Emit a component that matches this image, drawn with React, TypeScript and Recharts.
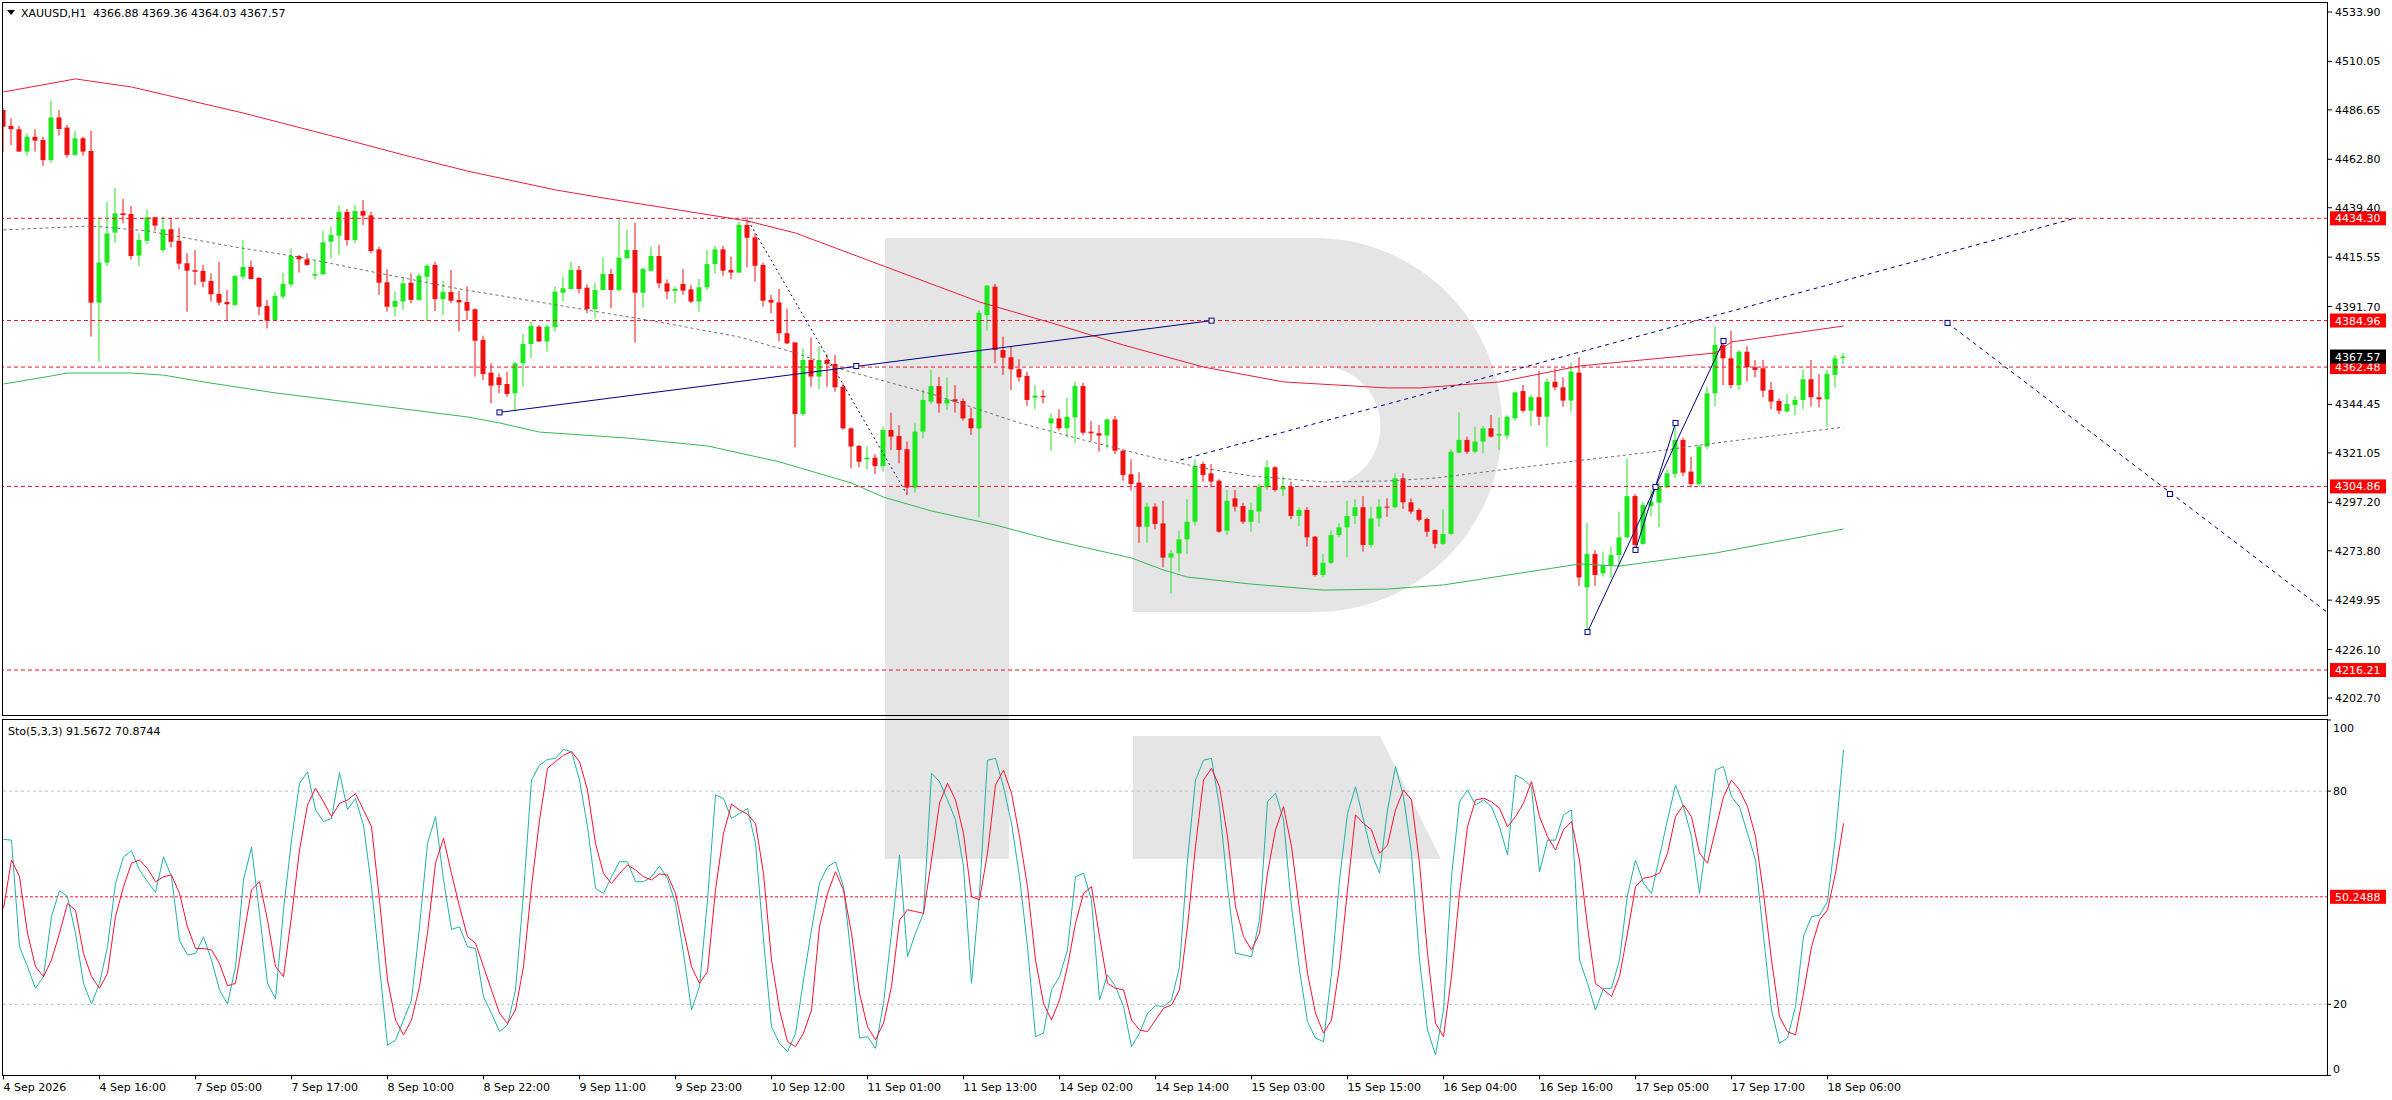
import React from 'react';
import { ComposedChart, Bar, Line, XAxis, YAxis, ReferenceLine, ReferenceDot } from 'recharts';

const FONT = 'DejaVu Sans';
const RED = '#f01010';
const GREEN = '#1ee81e';
const LEVEL_RED = '#ff1030';
const NAVY = '#000080';

const opens = [4486.6,4478.9,4477.3,4466.5,4473.6,4472.1,4462.4,4483.0,4478.1,4464.9,4472.9,4466.8,4393.6,4412.9,4427.4,4436.7,4436.4,4416.3,4423.4,4434.8,4419.0,4429.0,4423.4,4412.6,4409.3,4408.9,4404.0,4397.8,4393.9,4392.5,4406.1,4410.8,4405.5,4392.0,4385.2,4396.5,4402.4,4416.1,4414.5,4406.6,4407.3,4423.0,4425.9,4437.4,4423.8,4437.8,4435.7,4419.3,4403.4,4391.6,4394.1,4403.2,4394.9,4406.1,4411.8,4395.3,4398.7,4394.9,4393.9,4390.4,4375.6,4359.8,4357.5,4354.3,4349.8,4364.3,4373.6,4382.0,4374.8,4381.7,4398.4,4400.2,4409.4,4400.8,4390.5,4399.7,4407.4,4399.7,4415.0,4419.0,4398.4,4409.0,4416.1,4402.9,4399.2,4402.6,4400.0,4394.1,4401.0,4412.2,4419.3,4409.4,4408.1,4431.1,4425.1,4411.8,4394.9,4393.7,4378.8,4374.4,4339.8,4365.9,4357.9,4365.9,4364.0,4353.0,4332.9,4324.4,4317.9,4318.7,4314.7,4332.1,4329.2,4322.8,4304.3,4331.3,4345.8,4353.3,4344.9,4346.9,4346.1,4337.7,4332.9,4387.6,4401.3,4370.7,4367.2,4361.5,4358.2,4347.7,4348.5,4335.3,4337.7,4332.9,4338.2,4353.3,4331.3,4330.5,4329.4,4337.2,4322.1,4310.7,4306.7,4285.4,4295.1,4287.0,4270.5,4272.5,4279.3,4287.8,4315.7,4311.2,4307.6,4283.5,4299.1,4295.4,4287.8,4292.7,4304.4,4314.1,4303.4,4304.7,4290.6,4293.5,4280.6,4262.1,4268.0,4281.4,4285.1,4290.6,4294.8,4276.6,4289.4,4295.1,4294.8,4308.8,4297.2,4293.5,4289.1,4283.8,4277.1,4281.9,4321.2,4327.3,4321.6,4326.5,4332.9,4329.4,4329.4,4337.7,4350.9,4341.4,4347.9,4338.5,4355.4,4352.7,4346.3,4359.8,4256.1,4272.2,4262.9,4266.9,4271.7,4280.3,4300.2,4277.1,4295.4,4297.0,4304.4,4310.9,4327.3,4312.0,4306.0,4324.1,4349.8,4373.2,4366.7,4353.8,4369.9,4362.4,4361.9,4351.4,4346.1,4341.0,4344.2,4346.6,4356.6,4347.9,4346.9,4358.7,4366.88];
const highs = [4487.4,4482.6,4478.9,4475.3,4477.3,4473.7,4491.1,4486.6,4479.4,4476.6,4473.7,4476.6,4434.8,4442.3,4449.1,4443.6,4440.2,4427.0,4438.6,4435.1,4435.1,4434.6,4429.8,4417.4,4419.0,4411.8,4407.7,4413.4,4399.7,4406.9,4423.8,4413.9,4406.1,4394.9,4398.6,4408.1,4419.8,4416.6,4417.4,4414.2,4428.3,4430.3,4440.7,4438.8,4440.7,4443.1,4437.5,4420.6,4409.7,4398.9,4406.1,4407.7,4407.7,4412.2,4413.4,4404.0,4409.3,4399.2,4401.5,4390.8,4377.6,4364.3,4359.5,4360.3,4365.1,4378.5,4384.4,4382.8,4382.8,4401.3,4406.1,4413.4,4411.3,4402.4,4403.2,4415.3,4409.8,4434.3,4428.7,4432.2,4410.6,4420.6,4421.4,4404.8,4401.3,4409.8,4402.1,4405.0,4419.0,4420.9,4420.9,4415.8,4432.7,4434.8,4427.0,4412.9,4397.3,4400.2,4390.8,4374.4,4371.5,4376.7,4372.3,4368.6,4368.3,4354.6,4333.4,4324.9,4324.1,4320.4,4333.7,4340.5,4334.5,4326.5,4335.3,4351.7,4361.1,4357.8,4357.5,4353.8,4347.4,4342.9,4390.0,4402.1,4402.6,4377.2,4372.6,4366.2,4360.3,4353.8,4351.4,4340.1,4342.1,4347.7,4355.4,4354.9,4336.4,4334.5,4337.7,4338.9,4322.8,4317.9,4311.7,4297.0,4296.7,4297.9,4274.2,4283.5,4298.6,4317.9,4316.8,4315.7,4308.3,4303.1,4303.1,4297.0,4297.0,4306.3,4317.6,4314.7,4309.6,4307.2,4294.8,4294.8,4280.9,4272.2,4283.5,4287.0,4298.0,4298.6,4300.2,4295.1,4298.6,4299.1,4311.2,4311.2,4299.1,4294.3,4289.8,4284.1,4293.8,4322.8,4340.6,4328.9,4333.7,4334.0,4339.3,4338.1,4339.3,4350.6,4353.8,4349.0,4360.6,4357.0,4361.9,4357.5,4364.6,4367.2,4287.3,4274.2,4273.4,4275.8,4292.7,4318.4,4301.2,4297.5,4303.1,4306.7,4312.8,4335.6,4328.4,4319.2,4324.9,4353.0,4382.0,4374.8,4380.1,4370.7,4372.7,4365.9,4365.9,4355.4,4347.4,4349.5,4348.5,4361.4,4365.9,4359.1,4361.1,4368.3,4369.36];
const lows = [4466.5,4469.7,4466.5,4464.5,4466.5,4459.6,4461.2,4474.2,4463.6,4464.5,4464.5,4377.2,4365.1,4411.3,4422.5,4431.9,4414.5,4411.3,4421.9,4428.3,4417.7,4420.3,4409.7,4389.2,4402.1,4401.0,4394.1,4392.1,4384.7,4391.7,4404.8,4404.8,4387.6,4381.2,4384.9,4395.2,4401.0,4408.1,4411.4,4404.8,4406.9,4415.0,4416.6,4421.1,4422.2,4431.1,4417.4,4397.3,4389.2,4386.8,4390.0,4393.3,4394.9,4384.7,4389.5,4387.6,4393.3,4379.6,4385.2,4357.9,4356.2,4345.0,4349.8,4348.2,4340.9,4353.0,4366.7,4374.8,4369.9,4379.6,4394.1,4399.7,4398.1,4388.4,4386.0,4399.7,4390.8,4398.9,4414.7,4374.3,4391.2,4408.5,4400.5,4395.3,4393.3,4397.3,4393.3,4389.2,4399.7,4407.7,4406.5,4404.8,4408.1,4410.6,4403.7,4391.6,4388.4,4374.8,4373.6,4323.7,4338.8,4353.0,4351.8,4353.0,4350.6,4332.1,4313.6,4314.1,4313.1,4310.9,4312.0,4322.5,4316.0,4300.7,4301.9,4328.1,4344.6,4340.5,4341.8,4340.5,4336.6,4329.7,4289.9,4380.0,4364.3,4358.6,4351.4,4355.4,4343.7,4342.1,4345.0,4322.1,4331.8,4328.5,4325.7,4329.7,4326.8,4321.6,4323.2,4320.5,4307.6,4302.8,4277.7,4277.7,4284.1,4265.8,4253.2,4263.7,4272.2,4285.8,4307.1,4304.4,4282.5,4281.4,4292.7,4286.7,4283.0,4287.0,4303.1,4302.3,4300.2,4289.0,4285.7,4275.8,4261.3,4261.3,4267.4,4280.3,4270.6,4286.7,4273.4,4275.4,4285.4,4290.2,4294.3,4294.0,4291.6,4287.8,4280.6,4275.0,4276.6,4281.4,4320.8,4320.5,4320.8,4320.8,4328.4,4322.4,4327.6,4336.6,4340.5,4334.0,4334.5,4324.1,4351.4,4343.4,4340.9,4256.8,4234.3,4256.8,4261.3,4260.5,4266.1,4279.8,4275.0,4276.6,4290.3,4285.1,4303.9,4308.8,4309.9,4304.4,4304.7,4322.8,4343.4,4353.8,4352.2,4351.4,4355.4,4357.5,4347.9,4342.1,4339.8,4340.5,4339.3,4342.1,4343.4,4343.0,4333.7,4352.7,4364.03];
const closes = [4478.5,4477.3,4466.5,4473.7,4471.8,4462.4,4483.0,4477.4,4464.9,4472.9,4466.5,4393.6,4413.0,4427.0,4436.7,4435.9,4416.1,4423.8,4434.8,4430.8,4429.0,4423.0,4412.4,4409.0,4408.5,4403.7,4397.6,4393.6,4392.8,4406.5,4410.8,4405.0,4391.6,4384.9,4396.8,4402.6,4416.1,4414.5,4411.8,4407.4,4422.7,4426.2,4437.4,4423.8,4437.8,4435.6,4418.5,4403.2,4391.6,4394.4,4402.9,4394.9,4406.6,4411.4,4395.3,4398.7,4394.5,4393.7,4389.7,4375.2,4359.1,4353.5,4353.8,4349.5,4364.3,4373.6,4382.3,4374.8,4382.0,4398.9,4400.5,4409.4,4400.2,4390.5,4399.7,4407.4,4399.7,4415.3,4419.0,4398.4,4409.8,4416.1,4402.9,4398.9,4400.2,4399.4,4394.1,4401.0,4412.2,4419.3,4409.0,4408.1,4431.1,4424.9,4411.4,4394.5,4393.6,4378.8,4373.9,4339.8,4365.9,4357.9,4365.9,4364.0,4352.7,4332.9,4324.1,4316.8,4318.7,4314.7,4332.1,4328.9,4322.5,4304.3,4331.3,4346.6,4353.3,4344.9,4346.9,4345.8,4337.7,4332.9,4388.7,4401.8,4370.7,4367.0,4361.4,4357.5,4346.6,4348.7,4347.9,4337.7,4332.9,4338.5,4353.3,4330.8,4330.5,4329.4,4337.2,4322.1,4310.4,4306.0,4285.4,4295.1,4286.7,4270.5,4272.5,4279.3,4287.8,4314.7,4310.4,4307.2,4283.0,4297.9,4295.1,4287.8,4293.5,4304.7,4314.1,4303.1,4304.7,4290.6,4293.5,4280.3,4262.1,4268.0,4281.4,4285.1,4290.6,4294.8,4276.6,4289.4,4295.1,4294.6,4308.8,4297.2,4292.7,4288.7,4283.0,4277.1,4281.9,4321.6,4327.3,4321.6,4326.5,4332.9,4328.9,4330.2,4338.5,4350.3,4341.4,4347.9,4338.5,4355.4,4352.7,4346.3,4360.3,4260.9,4272.2,4262.1,4266.9,4271.7,4280.3,4300.2,4276.6,4295.9,4297.5,4304.7,4311.2,4327.3,4311.5,4306.0,4324.1,4349.8,4373.2,4366.7,4353.8,4369.9,4362.4,4361.1,4351.1,4345.8,4341.4,4344.7,4346.6,4356.6,4347.9,4346.9,4359.1,4366.7,4367.57];

const stochK = [66.4,66.2,36.2,30.6,24.5,27.8,44.7,52.0,50.3,40.0,25.9,20.1,25.9,36.2,54.0,61.5,63.2,57.8,54.5,51.5,61.5,55.9,37.9,33.9,34.3,39.0,32.5,24.0,20.1,30.6,55.0,64.2,45.6,25.9,21.6,46.5,66.2,82.2,85.4,74.7,71.4,72.3,85.2,74.8,77.9,70.4,53.1,30.6,8.5,9.9,15.6,21.2,41.8,65.3,72.8,55.0,41.1,41.8,36.2,35.7,22.1,17.5,12.3,14.2,24.0,51.2,83.1,87.3,88.9,89.2,91.7,91.1,83.1,70.0,52.6,51.2,55.9,60.1,60.1,54.5,54.5,55.9,58.9,55.4,48.4,34.3,18.4,25.0,49.3,78.9,77.9,72.3,73.7,75.1,65.3,38.1,13.7,9.0,6.7,11.8,26.9,41.0,54.1,58.7,60.1,53.1,32.5,10.5,10.9,7.6,20.3,40.0,62.0,33.4,40.0,45.6,85.0,82.7,77.5,71.9,58.7,25.9,51.2,88.7,89.2,81.2,70.9,55.9,36.2,10.9,11.9,24.1,27.8,35.3,55.9,56.9,49.4,21.2,28.3,25.0,19.4,8.1,11.9,17.5,19.6,19.4,21.2,30.6,60.6,83.1,88.7,89.2,75.6,53.1,34.4,33.9,33.4,43.7,77.0,79.4,71.9,47.5,29.7,15.1,10.5,9.5,28.7,55.0,73.7,81.2,71.9,62.5,56.9,74.7,86.9,78.4,62.5,32.5,12.8,5.8,18.4,55.9,77.0,80.3,76.1,77.5,75.6,70.0,62.0,84.5,83.3,81.2,57.3,66.2,66.2,73.3,74.7,32.5,25.9,18.4,24.5,24.5,32.5,50.8,60.6,54.1,51.2,61.6,71.9,81.7,75.6,67.2,51.2,68.1,85.9,86.9,78.4,75.6,68.1,60.6,39.1,18.4,9.0,10.5,19.4,39.1,44.7,45.1,48.9,67.2,91.57];
const stochD = [47.0,60.6,55.9,40.0,30.6,27.8,32.5,40.0,48.4,46.5,34.3,27.8,24.5,28.7,44.7,53.1,59.7,60.6,58.2,54.5,55.9,56.4,51.2,41.8,35.7,35.7,35.3,31.5,25.2,25.9,39.0,52.2,54.5,43.7,30.6,27.8,44.7,63.4,76.1,80.8,77.0,72.8,76.5,77.5,79.3,74.7,70.0,49.3,26.8,15.6,11.4,15.6,25.0,40.0,59.7,66.7,56.8,47.5,39.0,37.2,30.6,24.0,17.5,14.6,18.4,30.6,53.1,71.8,86.4,88.3,90.1,91.1,88.3,80.3,65.3,56.8,54.0,56.8,59.2,57.8,55.9,55.0,56.7,56.4,51.2,40.9,30.6,25.9,29.2,52.2,68.1,76.3,74.7,73.5,70.9,56.8,32.5,18.4,9.5,8.1,11.9,18.4,41.9,51.2,57.3,52.2,40.0,23.1,13.7,10.0,14.7,25.0,43.7,46.6,46.1,45.6,60.6,76.6,82.2,77.5,68.1,50.3,49.4,62.5,81.7,85.9,79.4,67.2,53.1,32.5,20.3,15.6,21.2,30.6,42.8,51.2,53.1,39.1,25.9,24.5,24.1,15.6,12.8,12.3,15.6,18.9,19.8,24.1,41.9,64.4,83.1,86.4,81.2,67.2,47.5,39.1,35.3,40.0,56.9,69.1,75.6,64.4,46.6,28.7,17.5,11.9,15.6,30.6,52.2,73.3,70.9,69.1,62.5,64.8,74.7,80.3,77.5,59.7,34.4,14.7,10.9,27.8,51.2,70.0,77.5,78.0,77.0,75.2,70.0,72.8,76.6,82.7,72.8,67.2,63.4,69.1,71.4,60.6,41.9,25.9,24.1,22.2,27.8,40.0,53.1,55.5,55.9,56.9,62.5,72.8,76.1,72.8,62.5,59.7,69.1,78.4,83.1,80.3,75.6,67.2,51.2,32.5,16.5,12.3,11.4,23.1,36.2,43.7,46.6,56.9,70.87];

// Bollinger-style bands: [bar index, price]
const bandUpper: [number, number][] = [[0,4495.3],[9,4501.6],[16,4497.7],[30,4485.1],[43,4472.1],[50,4464.9],[58,4457.1],[69,4448.0],[75,4444.1],[93,4433.0],[99,4427.2],[116,4402.6],[122,4393.9],[131,4383.8],[140,4373.1],[150,4362.5],[160,4355.3],[173,4352.4],[177,4352.4],[187,4355.3],[197,4363.0],[214,4369.3],[216,4374.6],[230,4382.3]];
const bandLower: [number, number][] = [[0,4354.3],[6,4358.2],[8,4359.6],[16,4359.6],[20,4358.6],[25,4355.3],[34,4350.0],[58,4338.4],[62,4335.5],[67,4331.1],[78,4328.2],[88,4324.4],[97,4316.7],[106,4306.5],[110,4299.7],[116,4293.0],[124,4286.2],[131,4279.0],[141,4270.3],[145,4264.5],[148,4261.1],[156,4257.7],[165,4254.8],[173,4255.3],[180,4257.3],[197,4267.4],[202,4266.4],[214,4272.7],[230,4284.3]];
const bandMiddle: [number, number][] = [[0,4428.7],[11,4430.6],[18,4428.2],[29,4420.4],[37,4415.6],[45,4409.3],[57,4400.2],[70,4391.9],[82,4384.2],[92,4377.0],[99,4369.3],[105,4361.1],[116,4349.5],[121,4343.2],[127,4335.5],[135,4327.3],[144,4318.6],[150,4313.7],[156,4309.9],[165,4307.0],[173,4307.5],[179,4308.9],[189,4313.7],[205,4321.0],[214,4325.8],[230,4333.5]];

const levels = [4434.30, 4384.96, 4362.48, 4304.86, 4216.21];
const lastPrice = 4367.57;
const stochLevel = 50.2488;
const priceTicks = [4533.90, 4510.05, 4486.65, 4462.80, 4439.40, 4415.55, 4391.70, 4344.45, 4321.05, 4297.20, 4273.80, 4249.95, 4226.10, 4202.70];
const stochTicks = [0, 20, 80, 100];
const timeLabels = ['4 Sep 2026','4 Sep 16:00','7 Sep 05:00','7 Sep 17:00','8 Sep 10:00','8 Sep 22:00','9 Sep 11:00','9 Sep 23:00','10 Sep 12:00','11 Sep 01:00','11 Sep 13:00','14 Sep 02:00','14 Sep 14:00','15 Sep 03:00','15 Sep 15:00','16 Sep 04:00','16 Sep 16:00','17 Sep 05:00','17 Sep 17:00','18 Sep 06:00'];
const labelStep = 12;

// drawn trend objects: [bar index, price] pairs
const trendSolid: [number, number][][] = [[[62, 4340.6], [151, 4384.9]], [[198, 4234.6], [215, 4375.1]], [[204, 4274.2], [209, 4335.5]]];
const trendDotted: [number, number][][] = [[[93.1, 4433.1], [112.9, 4301.2]]];
const trendDashed: [number, number][][] = [[[147.1, 4317.6], [258.9, 4434.3]], [[243, 4383.8], [290.5, 4244.0]]];
const anchorPoints: [number, number][] = [[62, 4340.6], [106.6, 4363.0], [151, 4384.9], [198, 4234.6], [204, 4274.2], [206.5, 4304.6], [209, 4335.5], [215, 4375.1], [243, 4383.8], [270.8, 4301.2]];

const X_DOMAIN: [number, number] = [-0.1875, 290.5625];
const PRICE_DOMAIN: [number, number] = [4194.02, 4538.73];

const rows: any[] = opens.map((o, i) => {
  const h = highs[i], l = lows[i], c = closes[i];
  return { i, o, h, l, c, range: [Math.min(l, o, c), Math.max(h, o, c)] };
});
bandUpper.forEach(([i, v]) => { rows[i].up = v; });
bandLower.forEach(([i, v]) => { rows[i].lo = v; });
bandMiddle.forEach(([i, v]) => { rows[i].mid = v; });

const stochRows = stochK.map((k, i) => ({ i, k, d: stochD[i] }));

const Candle = (props: any) => {
  const { x, y, width, height, payload } = props;
  if (!payload || x == null || y == null) return null;
  const lo = payload.range[0];
  const hi = payload.range[1];
  const top = Math.min(y, y + height);
  const h = Math.abs(height);
  const k = hi > lo ? h / (hi - lo) : 0;
  const py = (p: number) => top + (hi - p) * k;
  const cx = x + width / 2;
  const up = payload.c >= payload.o;
  const col = up ? GREEN : RED;
  const bt = py(Math.max(payload.o, payload.c));
  const bb = py(Math.min(payload.o, payload.c));
  return (
    <g>
      <line x1={cx} x2={cx} y1={top} y2={top + Math.max(h, 1)} stroke={col} strokeWidth={1} />
      <rect x={cx - 2.5} y={bt} width={5} height={Math.max(1, bb - bt)} fill={col} />
    </g>
  );
};

const Tag = (props: any) => {
  const { viewBox, text, bg } = props;
  if (!viewBox) return null;
  const x = viewBox.x + viewBox.width + 2;
  const y = viewBox.y;
  return (
    <g>
      <rect x={x} y={y - 7} width={56} height={14} fill={bg} />
      <text x={x + 5} y={y + 4} fill="#ffffff" fontSize={11} fontFamily={FONT}>{text}</text>
    </g>
  );
};

const PriceTick = (props: any) => {
  const { x, y, payload } = props;
  return (
    <text x={x} y={y + 4} fill="#000" fontSize={11} fontFamily={FONT} textAnchor="start">
      {Number(payload.value).toFixed(2)}
    </text>
  );
};

const StochTick = (props: any) => {
  const { x, y, payload } = props;
  const v = payload.value;
  const dy = v === 100 ? 8 : v === 0 ? -6 : 0;
  return (
    <text x={x} y={y + 4 + dy} fill="#000" fontSize={11} fontFamily={FONT} textAnchor="start">
      {v}
    </text>
  );
};

const TimeTick = (props: any) => {
  const { x, y, payload } = props;
  const idx = Math.round(payload.value / labelStep);
  return (
    <text x={x} y={y + 10} fill="#000" fontSize={11} fontFamily={FONT} textAnchor="start">
      {timeLabels[idx]}
    </text>
  );
};

const Square = (props: any) => {
  const { cx, cy } = props;
  if (cx == null || cy == null) return null;
  return <rect x={cx - 2.5} y={cy - 2.5} width={5} height={5} fill="#ffffff" stroke={NAVY} strokeWidth={1} />;
};

const Logo = () => (
  <svg width={2392} height={1100} style={{ position: 'absolute', left: 0, top: 0 }}>
    <path d="M885,238 H1315 A187,187 0 0 1 1315,612 H885 Z" fill="#e5e5e5" />
    <path d="M1009,366 H1320 A60.5,60.5 0 0 1 1320,487 H1133 V612 H1009 Z" fill="#ffffff" />
    <rect x={885} y={238} width={124} height={621} fill="#e5e5e5" />
    <path d="M1133,736 H1380 L1441,859 H1133 Z" fill="#e5e5e5" />
  </svg>
);

const Overlay = () => (
  <svg width={2392} height={1100} style={{ position: 'absolute', left: 0, top: 0, pointerEvents: 'none' }}>
    <rect x={2.5} y={2.5} width={2325} height={713} fill="none" stroke="#000" strokeWidth={1} />
    <rect x={2.5} y={719.5} width={2325} height={356} fill="none" stroke="#000" strokeWidth={1} />
    <polygon points="7,10 15,10 11,15" fill="#000" />
    <text x={21} y={17} fontSize={11} fontFamily={FONT} fill="#000">XAUUSD,H1</text>
    <text x={93} y={17} fontSize={11} fontFamily={FONT} fill="#000">4366.88 4369.36 4364.03 4367.57</text>
    <text x={8} y={735} fontSize={11} fontFamily={FONT} fill="#000">Sto(5,3,3) 91.5672 70.8744</text>
  </svg>
);

export default function App() {
  const xTicks = timeLabels.map((_, k) => k * labelStep);
  return (
    <div style={{ position: 'absolute', left: 0, top: 0, width: 2392, height: 1100, background: '#ffffff', overflow: 'hidden', fontFamily: FONT }}>
      <Logo />
      <div style={{ position: 'absolute', left: 0, top: 0 }}>
        <ComposedChart width={2392} height={716} data={rows} margin={{ top: 2, right: 0, bottom: 0, left: 2 }}>
          <XAxis dataKey="i" type="number" domain={X_DOMAIN} hide allowDataOverflow />
          <YAxis orientation="right" type="number" domain={PRICE_DOMAIN} ticks={priceTicks} interval={0}
            width={64} tickSize={4} tickMargin={3} axisLine={false} tickLine={{ stroke: '#000' }}
            tick={<PriceTick />} allowDataOverflow />
          {levels.map((v) => (
            <ReferenceLine key={v} y={v} stroke={LEVEL_RED} strokeDasharray="4 3" strokeWidth={1}
              label={<Tag text={v.toFixed(2)} bg="#ff0000" />} />
          ))}
          <ReferenceLine y={lastPrice} stroke="none" label={<Tag text={lastPrice.toFixed(2)} bg="#000000" />} />
          <Line dataKey="up" stroke="#ee1c3c" strokeWidth={1} dot={false} connectNulls isAnimationActive={false} />
          <Line dataKey="lo" stroke="#34b955" strokeWidth={1} dot={false} connectNulls isAnimationActive={false} />
          <Line dataKey="mid" stroke="#707070" strokeWidth={1} strokeDasharray="3 3" dot={false} connectNulls isAnimationActive={false} />
          <Bar dataKey="range" barSize={5} shape={<Candle />} isAnimationActive={false} />
          {trendSolid.map((s, k) => (
            <ReferenceLine key={'s' + k} segment={[{ x: s[0][0], y: s[0][1] }, { x: s[1][0], y: s[1][1] }]}
              stroke={NAVY} strokeWidth={1} ifOverflow="hidden" />
          ))}
          {trendDotted.map((s, k) => (
            <ReferenceLine key={'d' + k} segment={[{ x: s[0][0], y: s[0][1] }, { x: s[1][0], y: s[1][1] }]}
              stroke={NAVY} strokeWidth={1} strokeDasharray="2 3" ifOverflow="hidden" />
          ))}
          {trendDashed.map((s, k) => (
            <ReferenceLine key={'h' + k} segment={[{ x: s[0][0], y: s[0][1] }, { x: s[1][0], y: s[1][1] }]}
              stroke={NAVY} strokeWidth={1} strokeDasharray="4 4" ifOverflow="hidden" />
          ))}
          {anchorPoints.map((p, k) => (
            <ReferenceDot key={'p' + k} x={p[0]} y={p[1]} r={3} shape={<Square />} ifOverflow="hidden" />
          ))}
        </ComposedChart>
      </div>
      <div style={{ position: 'absolute', left: 0, top: 718 }}>
        <ComposedChart width={2392} height={382} data={stochRows} margin={{ top: 2, right: 0, bottom: 0, left: 2 }}>
          <XAxis dataKey="i" type="number" domain={X_DOMAIN} ticks={xTicks} interval={0} height={24.6}
            tickSize={4} tickMargin={2} axisLine={false} tickLine={{ stroke: '#000' }} tick={<TimeTick />} allowDataOverflow />
          <YAxis orientation="right" type="number" domain={[0, 100]} ticks={stochTicks} interval={0}
            width={64} tickSize={3} tickMargin={2} axisLine={false} tickLine={{ stroke: '#000' }}
            tick={<StochTick />} allowDataOverflow />
          <ReferenceLine y={80} stroke="#c0c0c0" strokeDasharray="3 3" />
          <ReferenceLine y={20} stroke="#c0c0c0" strokeDasharray="3 3" />
          <ReferenceLine y={stochLevel} stroke={LEVEL_RED} strokeDasharray="3 2"
            label={<Tag text={stochLevel.toFixed(4)} bg="#ff0000" />} />
          <Line dataKey="k" stroke="#20b2aa" strokeWidth={1} dot={false} isAnimationActive={false} />
          <Line dataKey="d" stroke="#ff1030" strokeWidth={1} dot={false} isAnimationActive={false} />
        </ComposedChart>
      </div>
      <Overlay />
    </div>
  );
}
